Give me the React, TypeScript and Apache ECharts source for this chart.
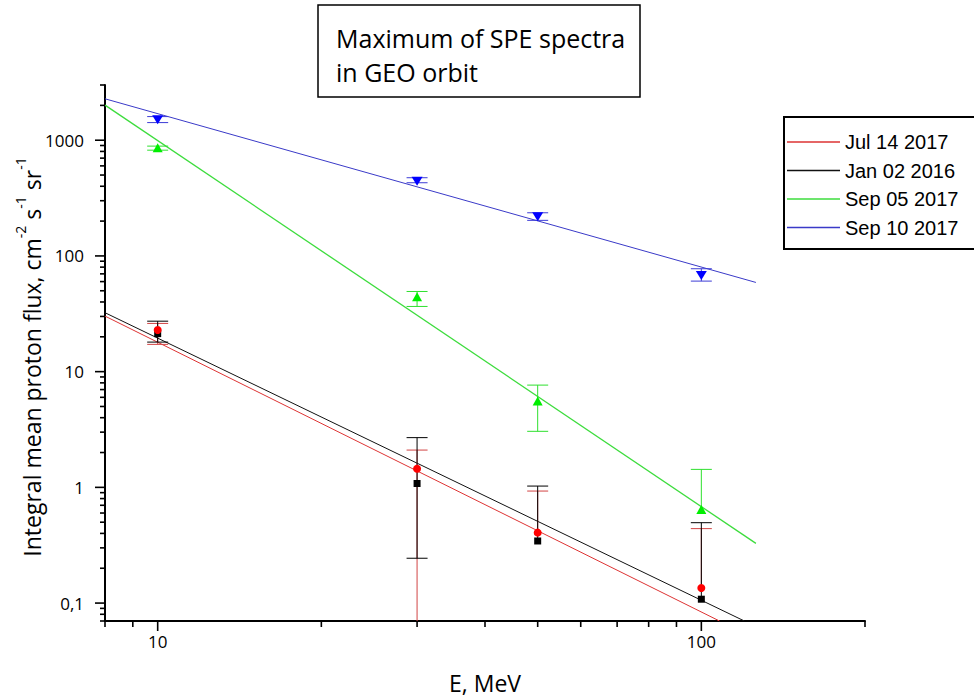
import React, { useEffect, useRef } from "react";
import * as echarts from "echarts";

// ---- data ----
const energies = [10, 30, 50, 100];
const seriesNames = ["Jul 14 2017", "Jan 02 2016", "Sep 05 2017", "Sep 10 2017"];

const jul14Flux = [22.9, 1.45, 0.406, 0.135];
const jul14Upper = [26.1, 2.1, 0.929, 0.44];
const jul14Lower = [17.2, 0.01, null, null];

const jan02Flux = [21.3, 1.08, 0.344, 0.108];
const jan02Upper = [27.3, 2.69, 1.026, 0.495];
const jan02Lower = [18.0, 0.244, null, null];

const sep05Flux = [860, 44.4, 5.57, 0.645];
const sep05Upper = [889, 49.3, 7.65, 1.43];
const sep05Lower = [820, 36.6, 3.05, null];

const sep10Flux = [1500, 443, 218, 67.9];
const sep10Upper = [1600, 474, 236, 77.5];
const sep10Lower = [1420, 429, 203, 60.6];

// power-law fit lines (end points)
const jul14FitE = [8, 108];
const jul14FitFlux = [30.2, 0.07];
const jan02FitE = [8, 120];
const jan02FitFlux = [32.3, 0.07];
const sep05FitE = [8, 126];
const sep05FitFlux = [2010, 0.328];
const sep10FitE = [8, 126];
const sep10FitFlux = [2280, 59];

// axes
const xMin = 8;
const xMax = 200;
const yMin = 0.07;
const yMax = 3000;
const xMajorTicks = [10, 100];
const xMinorTicks = [8, 9, 20, 30, 40, 50, 60, 70, 80, 90, 200];
const yMajorTicks = [0.1, 1, 10, 100, 1000];
const yMinorTicks = [
  0.07, 0.08, 0.09, 0.2, 0.3, 0.4, 0.5, 0.6, 0.7, 0.8, 0.9,
  2, 3, 4, 5, 6, 7, 8, 9, 20, 30, 40, 50, 60, 70, 80, 90,
  200, 300, 400, 500, 600, 700, 800, 900, 2000, 3000,
];

const titleLines = ["Maximum of SPE spectra", "in GEO orbit"];
const xTitle = "E, MeV";

const FONT = "'Open Sans', 'Noto Sans', sans-serif";
const LEGEND_FONT = "'Liberation Sans', Arial, sans-serif";

const lineColors = ["#dd3333", "#111111", "#3ddc3d", "#3a3ac8"];
const errColors = ["#d24444", "#000000", "#2ee02e", "#3c3cd6"];
const markerColors = ["#ff0000", "#000000", "#00ee00", "#0000ff"];

function zip(a: number[], b: (number | null)[]) {
  return a.map((v, i) => [v, b[i]]);
}

export default function App() {
  const ref = useRef<HTMLDivElement>(null);

  useEffect(() => {
    if (!ref.current) return;
    const chart = echarts.init(ref.current, undefined, { renderer: "svg" });

    const fits = [
      zip(jul14FitE, jul14FitFlux),
      zip(jan02FitE, jan02FitFlux),
      zip(sep05FitE, sep05FitFlux),
      zip(sep10FitE, sep10FitFlux),
    ];
    const fluxes = [jul14Flux, jan02Flux, sep05Flux, sep10Flux];
    const uppers = [jul14Upper, jan02Upper, sep05Upper, sep10Upper];
    const lowers = [jul14Lower, jan02Lower, sep05Lower, sep10Lower];

    const capHalf = 10.5;

    const errSeries = seriesNames.map((name, s) => ({
      type: "custom",
      name: name + " err",
      z: 3,
      silent: true,
      encode: { x: 0, y: 1 },
      data: energies.map((e, i) => [e, fluxes[s][i], uppers[s][i], lowers[s][i]]),
      renderItem: (params: any, api: any) => {
        const e = api.value(0);
        const v = api.value(1);
        const hi = api.value(2);
        const lo = api.value(3);
        const cs = params.coordSys;
        const bottom = cs.y + cs.height;
        const stroke = errColors[s];
        const st = { stroke, lineWidth: 1, fill: "none" };
        const mid = api.coord([e, v]);
        const top = api.coord([e, hi]);
        const children: any[] = [
          { type: "line", shape: { x1: top[0], y1: top[1], x2: mid[0], y2: mid[1] }, style: st },
          { type: "line", shape: { x1: top[0] - capHalf, y1: top[1], x2: top[0] + capHalf, y2: top[1] }, style: st },
        ];
        if (isFinite(lo) && lo > 0) {
          const b = api.coord([e, lo]);
          const by = Math.min(b[1], bottom);
          children.push({ type: "line", shape: { x1: mid[0], y1: mid[1], x2: mid[0], y2: by }, style: st });
          if (b[1] <= bottom) {
            children.push({ type: "line", shape: { x1: b[0] - capHalf, y1: b[1], x2: b[0] + capHalf, y2: b[1] }, style: st });
          }
        }
        return { type: "group", children };
      },
    }));

    const symbols = ["circle", "rect", "triangle", "triangle"];
    const symbolSizes: any[] = [8, 7, [10, 9], [11, 9]];
    const symbolRotates = [0, 0, 0, 180];
    const markerOrder = [1, 0, 2, 3];
    const markerSeries = markerOrder.map((s) => ({
      type: "scatter",
      name: seriesNames[s] + " points",
      z: 4,
      silent: true,
      symbol: symbols[s],
      symbolSize: symbolSizes[s],
      symbolRotate: symbolRotates[s],
      itemStyle: { color: markerColors[s], opacity: 1 },
      data: zip(energies, fluxes[s]),
    }));

    const fitSeries = seriesNames.map((name, s) => ({
      type: "line",
      name,
      z: 2,
      silent: true,
      symbol: "none",
      color: lineColors[s],
      itemStyle: { color: lineColors[s] },
      lineStyle: { color: lineColors[s], width: s === 2 ? 1.3 : 1 },
      data: fits[s],
    }));

    const tickSeries = (vals: number[], axis: "x" | "y", len: number) => ({
      type: "custom",
      name: "ticks",
      z: 5,
      silent: true,
      clip: false,
      encode: { x: 0, y: 1 },
      data: vals.map((v) => (axis === "x" ? [v, yMin] : [xMin, v])),
      renderItem: (_p: any, api: any) => {
        const p = api.coord([api.value(0), api.value(1)]);
        const shape =
          axis === "x"
            ? { x1: p[0], y1: p[1], x2: p[0], y2: p[1] + len }
            : { x1: p[0] - len, y1: p[1], x2: p[0], y2: p[1] };
        return { type: "line", shape, style: { stroke: "#000", lineWidth: 1.6 } };
      },
    });

    const fmt = (v: number) => {
      const n = parseFloat(Number(v).toPrecision(6));
      return String(n).replace(".", ",");
    };

    chart.setOption({
      animation: false,
      backgroundColor: "#ffffff",
      grid: { left: 105, right: 109, top: 85, bottom: 78, containLabel: false, outerBoundsMode: "none" },
      legend: {
        orient: "vertical",
        left: 787,
        top: 131,
        padding: 0,
        itemWidth: 53,
        itemHeight: 1.5,
        itemGap: 6.5,
        icon: "rect",
        data: seriesNames.map((name, i) => ({
          name,
          icon: "rect",
          itemStyle: { color: lineColors[i] },
        })),
        selectedMode: false,
        textStyle: { fontFamily: LEGEND_FONT, fontSize: 20, color: "#000", lineHeight: 22 },
      },
      xAxis: {
        type: "log",
        logBase: 10,
        min: xMin,
        max: xMax,
        name: xTitle,
        nameLocation: "middle",
        nameGap: 50,
        nameTextStyle: { fontFamily: FONT, fontSize: 23, color: "#000" },
        axisLine: { show: true, onZero: false, lineStyle: { color: "#000", width: 2 } },
        axisTick: { show: false },
        minorTick: { show: false },
        splitLine: { show: false },
        axisLabel: {
          showMinLabel: false,
          showMaxLabel: false,
          margin: 12,
          fontFamily: FONT,
          fontSize: 17,
          color: "#000",
          formatter: fmt,
        },
      },
      yAxis: {
        type: "log",
        logBase: 10,
        min: yMin,
        max: yMax,
        axisLine: { show: true, onZero: false, lineStyle: { color: "#000", width: 2 } },
        axisTick: { show: false },
        minorTick: { show: false },
        splitLine: { show: false },
        axisLabel: {
          showMinLabel: false,
          showMaxLabel: false,
          margin: 21,
          fontFamily: FONT,
          fontSize: 17,
          color: "#000",
          formatter: fmt,
        },
      },
      graphic: [
        {
          type: "rect",
          shape: { x: 318, y: 5, width: 322, height: 92 },
          style: { fill: "none", stroke: "#000", lineWidth: 1.5 },
          silent: true,
        },
        {
          type: "text",
          x: 336,
          y: 38,
          style: { text: titleLines[0], fontFamily: FONT, fontSize: 25, fill: "#000", align: "left", verticalAlign: "middle" },
        },
        {
          type: "text",
          x: 336,
          y: 72,
          style: { text: titleLines[1], fontFamily: FONT, fontSize: 25, fill: "#000", align: "left", verticalAlign: "middle" },
        },
        {
          type: "rect",
          shape: { x: 784, y: 117, width: 220, height: 132 },
          style: { fill: "none", stroke: "#000", lineWidth: 2 },
          silent: true,
        },
        {
          type: "text",
          x: 32,
          y: 357,
          rotation: Math.PI / 2,
          style: {
            text: "{m|Integral mean proton flux, cm}{s|-2}{m| s}{s|-1}{m| sr}{s|-1}",
            align: "center",
            verticalAlign: "middle",
            rich: {
              m: { fontFamily: FONT, fontSize: 23, fill: "#000", lineHeight: 38 },
              s: { fontFamily: FONT, fontSize: 14, fill: "#000", lineHeight: 17, verticalAlign: "top" },
            },
          },
        },
      ],
      series: [
        ...fitSeries,
        ...errSeries,
        ...markerSeries,
        tickSeries(xMajorTicks, "x", 10),
        tickSeries(xMinorTicks, "x", 6),
        tickSeries(yMajorTicks, "y", 10),
        tickSeries(yMinorTicks, "y", 5),
      ],
    } as any);

    return () => chart.dispose();
  }, []);

  return (
    <div
      ref={ref}
      style={{ position: "fixed", left: 0, top: 0, width: 974, height: 699, background: "#fff" }}
    />
  );
}
